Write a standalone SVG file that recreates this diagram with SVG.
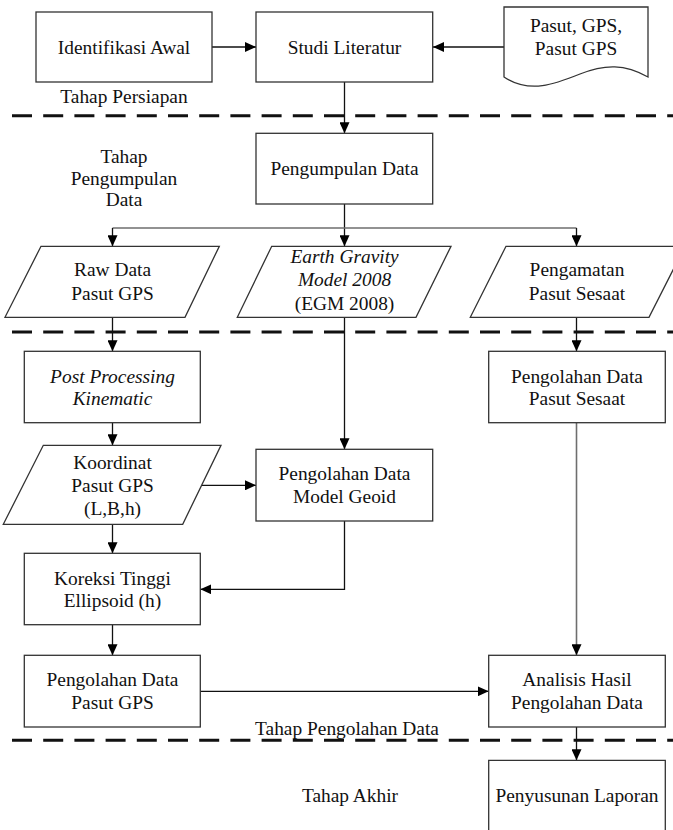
<svg xmlns="http://www.w3.org/2000/svg" width="673" height="830" viewBox="0 0 673 830">
<style>
text{font-family:"Liberation Serif","Times New Roman",serif;font-size:19.4px;fill:#111;text-anchor:middle}
.it{font-style:italic}
.box{fill:#fff;stroke:#333;stroke-width:1.3}
.ln{fill:none;stroke:#111;stroke-width:1.3}
.gr{fill:none;stroke:#6e6e6e;stroke-width:1.6}
.dash{fill:none;stroke:#111;stroke-width:3;stroke-dasharray:20 11.2}
</style>
<defs>
<marker id="ah" viewBox="0 0 11 10" refX="11" refY="5" markerWidth="11" markerHeight="10" markerUnits="userSpaceOnUse" orient="auto">
<path d="M0,0 L11,5 L0,10 Z" fill="#000"/>
</marker>
</defs>
<rect width="673" height="830" fill="#fff"/>
<g id="separators">
<line class="dash" x1="12" y1="115.7" x2="673" y2="115.7"/>
<line class="dash" x1="12" y1="332" x2="673" y2="332"/>
<line class="dash" x1="12" y1="740.3" x2="673" y2="740.3"/>
</g>
<g id="stage-labels">
<text x="124" y="103.3">Tahap Persiapan</text>
<text x="124" y="163">Tahap</text>
<text x="124" y="184.5">Pengumpulan</text>
<text x="124" y="206">Data</text>
<text x="347" y="734.7">Tahap Pengolahan Data</text>
<text x="350" y="802">Tahap Akhir</text>
</g>
<g id="connectors">
<path class="ln" d="M212,47 H256" marker-end="url(#ah)"/>
<path class="ln" d="M504,47 H433" marker-end="url(#ah)"/>
<path class="ln" d="M344.5,82 V133.3" marker-end="url(#ah)"/>
<path class="ln" d="M344.5,204 V246.3" marker-end="url(#ah)"/>
<path class="gr" d="M112.5,228 H576.5"/>
<path class="ln" d="M112.5,228 V246.3" marker-end="url(#ah)"/>
<path class="ln" d="M576.5,228 V246.3" marker-end="url(#ah)"/>
<path class="ln" d="M112.5,317 V351.3" marker-end="url(#ah)"/>
<path class="ln" d="M344.5,317 V449.3" marker-end="url(#ah)"/>
<path class="ln" d="M576.5,317 V351.3" marker-end="url(#ah)"/>
<path class="ln" d="M112.5,423 V445.3" marker-end="url(#ah)"/>
<path class="ln" d="M202,485.3 H256" marker-end="url(#ah)"/>
<path class="ln" d="M112.5,524.3 V553.3" marker-end="url(#ah)"/>
<path class="ln" d="M344.5,521 V589.3 H200.3" marker-end="url(#ah)"/>
<path class="ln" d="M112.5,624.7 V655.3" marker-end="url(#ah)"/>
<path class="ln" d="M200.3,691.3 H488.7" marker-end="url(#ah)"/>
<path class="gr" d="M576.5,423 V655.3" marker-end="url(#ah)"/>
<path class="ln" d="M576.5,727 V760.3" marker-end="url(#ah)"/>
</g>
<g id="identifikasi-awal">
<rect class="box" x="36" y="12" width="176" height="70"/>
<text x="124" y="53.5">Identifikasi Awal</text>
</g>
<g id="studi-literatur">
<rect class="box" x="256" y="12" width="176.7" height="70"/>
<text x="344.5" y="53.5">Studi Literatur</text>
</g>
<g id="pasut-gps-doc">
<path class="box" d="M504,7 H648 V77 C625,64 605,64 580,74 C555,84 530,94 504,77 Z"/>
<text x="576" y="31.7">Pasut, GPS,</text>
<text x="576" y="55">Pasut GPS</text>
</g>
<g id="pengumpulan-data">
<rect class="box" x="256" y="133.3" width="176.7" height="70.7"/>
<text x="344.5" y="175">Pengumpulan Data</text>
</g>
<g id="raw-data">
<path class="box" d="M41,246.3 H219.3 L185,317.3 H5 Z"/>
<text x="112.5" y="276.3">Raw Data</text>
<text x="112.5" y="299.7">Pasut GPS</text>
</g>
<g id="egm2008">
<path class="box" d="M271.7,246.3 H451 L416,317.3 H237.3 Z"/>
<text class="it" x="344.5" y="263">Earth Gravity</text>
<text class="it" x="344.5" y="286.3">Model 2008</text>
<text x="344.5" y="309.7">(EGM 2008)</text>
</g>
<g id="pengamatan">
<path class="box" d="M506,246.3 H685 L649,317.3 H470.3 Z"/>
<text x="577" y="276.3">Pengamatan</text>
<text x="577" y="299.7">Pasut Sesaat</text>
</g>
<g id="post-processing">
<rect class="box" x="24.3" y="351.3" width="176" height="71.4"/>
<text class="it" x="112.5" y="382.7">Post Processing</text>
<text class="it" x="112.5" y="404.7">Kinematic</text>
</g>
<g id="pengolahan-sesaat">
<rect class="box" x="488.7" y="351.3" width="176.6" height="71.4"/>
<text x="577" y="382.7">Pengolahan Data</text>
<text x="577" y="404.7">Pasut Sesaat</text>
</g>
<g id="koordinat">
<path class="box" d="M43.3,445.3 H221 L182.7,524.3 H3.3 Z"/>
<text x="112.5" y="468.5">Koordinat</text>
<text x="112.5" y="491.7">Pasut GPS</text>
<text x="112.5" y="514.7">(L,B,h)</text>
</g>
<g id="model-geoid">
<rect class="box" x="256" y="449.3" width="176.7" height="71.7"/>
<text x="344.5" y="480">Pengolahan Data</text>
<text x="344.5" y="502.5">Model Geoid</text>
</g>
<g id="koreksi-tinggi">
<rect class="box" x="24.3" y="553.3" width="176" height="71.4"/>
<text x="112.5" y="584.5">Koreksi Tinggi</text>
<text x="112.5" y="607">Ellipsoid (h)</text>
</g>
<g id="pengolahan-pasut-gps">
<rect class="box" x="24.3" y="655.3" width="176" height="71.7"/>
<text x="112.5" y="686.3">Pengolahan Data</text>
<text x="112.5" y="709">Pasut GPS</text>
</g>
<g id="analisis">
<rect class="box" x="488.7" y="655.3" width="176.6" height="71.7"/>
<text x="577" y="686.3">Analisis Hasil</text>
<text x="577" y="709">Pengolahan Data</text>
</g>
<g id="penyusunan-laporan">
<path class="box" d="M488.7,835 V760.3 H665.3 V835"/>
<text x="577" y="802">Penyusunan Laporan</text>
</g>
</svg>
